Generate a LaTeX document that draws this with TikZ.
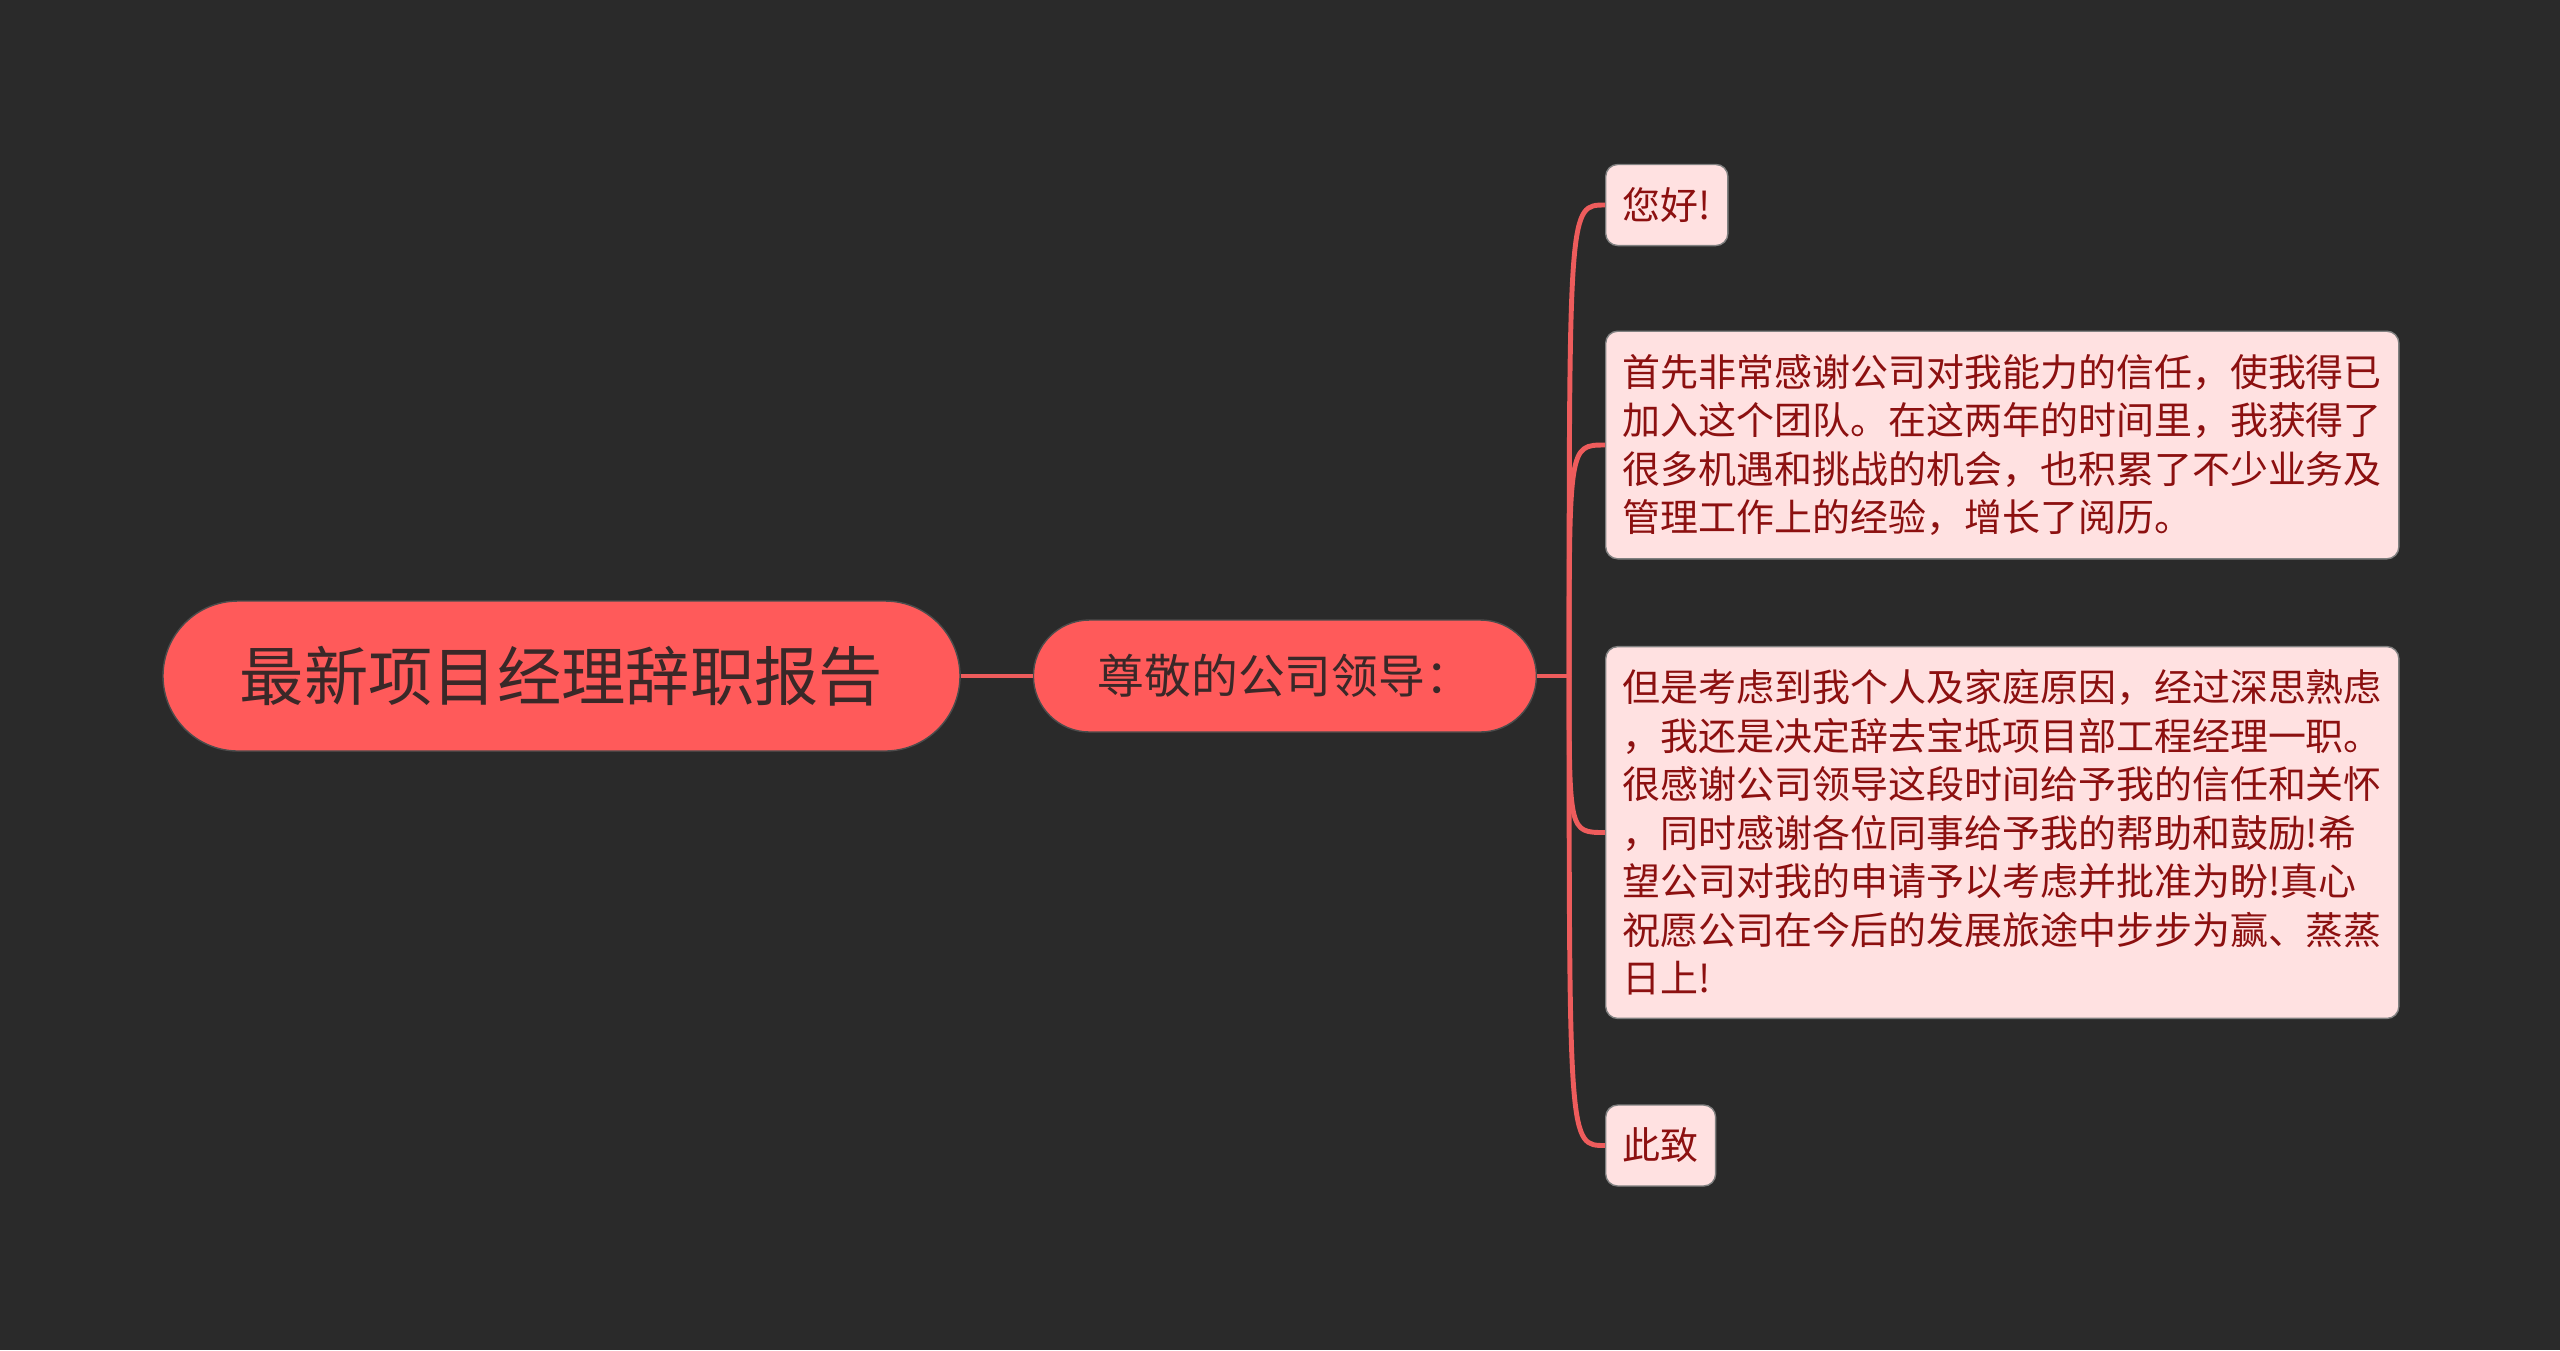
\documentclass[tikz,border=0pt]{standalone}
\usepackage{fontspec}
\setmainfont{Noto Sans CJK SC}
\usetikzlibrary{positioning}
\definecolor{bgdark}{RGB}{42,42,42}
\definecolor{topicred}{RGB}{255,90,90}
\definecolor{linkred}{RGB}{238,92,92}
\definecolor{leafpink}{RGB}{255,225,225}
\definecolor{leaftext}{RGB}{140,16,16}
\definecolor{roottext}{RGB}{58,40,40}
\tikzstyle{rootbox}=[draw=black!70,fill=topicred,rounded corners=0.75cm,minimum width=7.97cm,minimum height=1.5cm,text=roottext,font=\fontsize{18.3pt}{22pt}\selectfont]
\tikzstyle{topicbox}=[draw=black!70,fill=topicred,rounded corners=0.56cm,minimum width=5.03cm,minimum height=1.12cm,text=roottext,font=\fontsize{13.3pt}{15pt}\selectfont]
\tikzstyle{leafbox}=[draw=black!50,fill=leafpink,rounded corners=0.12cm,align=left,anchor=west,inner xsep=0.17cm,inner ysep=0.23cm,text=leaftext,font=\fontsize{10.8pt}{13.8pt}\selectfont]
\tikzstyle{link}=[draw=linkred,line width=1.4pt]

\begin{document}
\begin{tikzpicture}
    \fill[bgdark] (0,0) rectangle (25.6,-13.5);
    \useasboundingbox (0,0) rectangle (25.6,-13.5);

    \node[rootbox] (root) at (5.615,-6.76) {最新项目经理辞职报告};
    \node[topicbox, right=0.72cm of root] (topic) {尊敬的公司领导：};
    \coordinate[right=0.32cm of topic] (fork);
    \draw[link] (root) -- (topic);
    \draw[link] (topic) -- (fork);

    \node[leafbox] (hello) at (16.05,-2.05) {您好!};
    \node[leafbox] (thanks) at (16.05,-4.45) {首先非常感谢公司对我能力的信任，使我得已\\加入这个团队。在这两年的时间里，我获得了\\很多机遇和挑战的机会，也积累了不少业务及\\管理工作上的经验，增长了阅历。};
    \node[leafbox] (resign) at (16.05,-8.325) {但是考虑到我个人及家庭原因，经过深思熟虑\\，我还是决定辞去宝坻项目部工程经理一职。\\很感谢公司领导这段时间给予我的信任和关怀\\，同时感谢各位同事给予我的帮助和鼓励!希\\望公司对我的申请予以考虑并批准为盼!真心\\祝愿公司在今后的发展旅途中步步为赢、蒸蒸\\日上!};
    \node[leafbox] (regards) at (16.05,-11.455) {此致};

    \draw[link] (fork) .. controls (fork |- hello.west) .. (hello.west);
    \draw[link] (fork) .. controls (fork |- thanks.west) .. (thanks.west);
    \draw[link] (fork) .. controls (fork |- resign.west) .. (resign.west);
    \draw[link] (fork) .. controls (fork |- regards.west) .. (regards.west);
\end{tikzpicture}
\end{document}
